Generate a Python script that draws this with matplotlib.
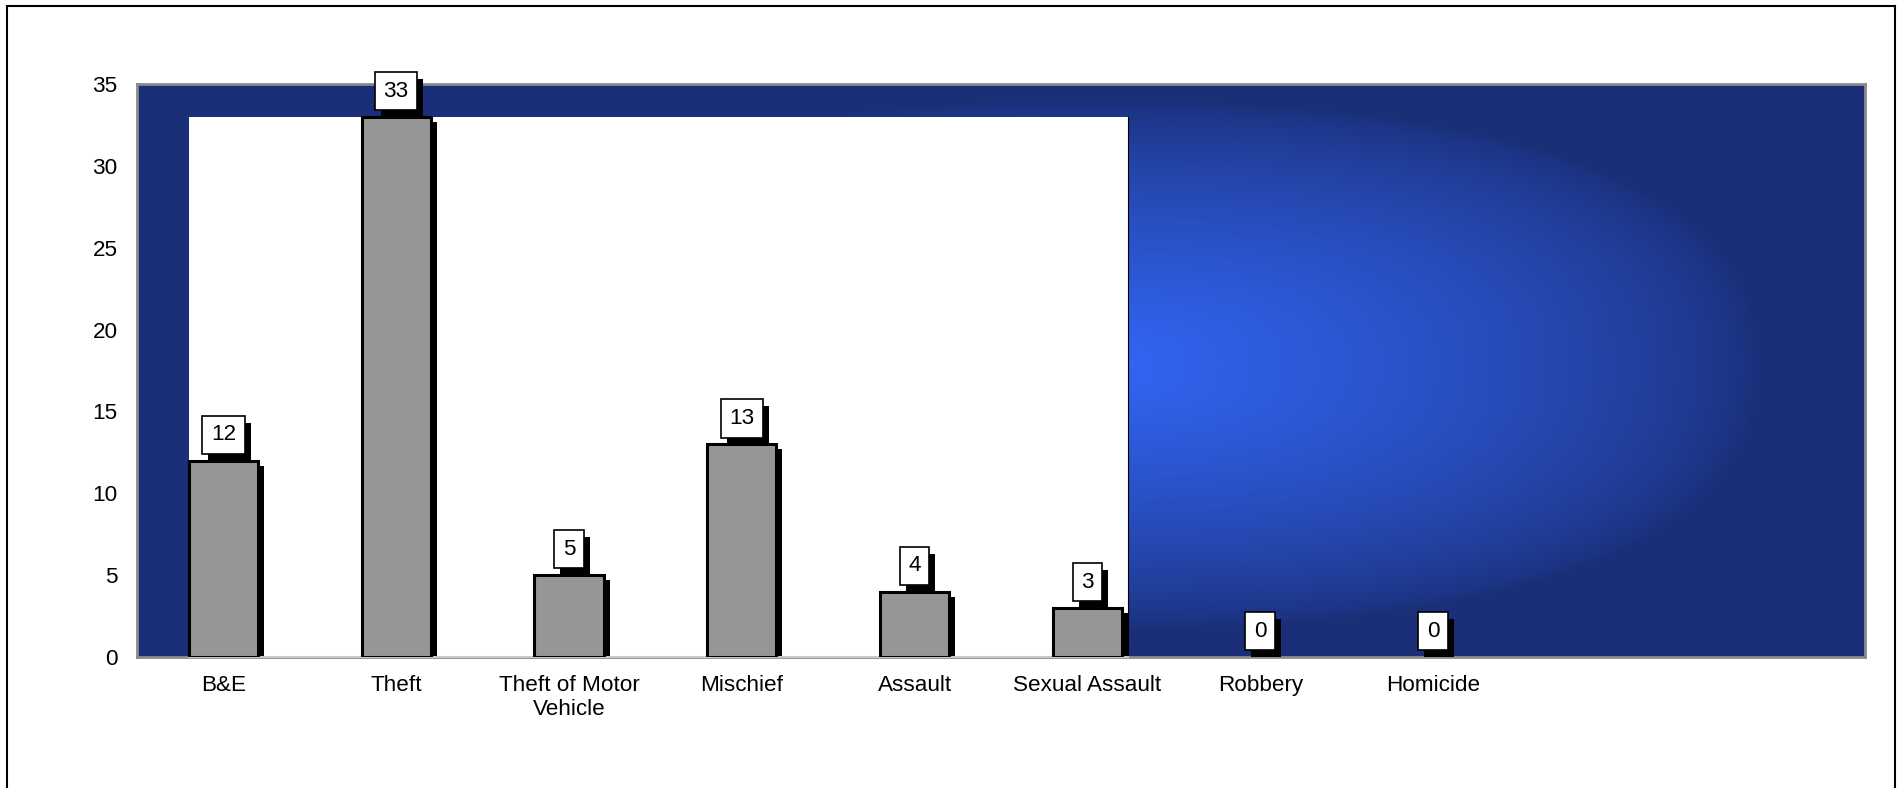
import numpy as np
import matplotlib
matplotlib.use("Agg")
import matplotlib.pyplot as plt
from matplotlib.patches import Rectangle
from matplotlib import transforms

plt.rcParams['font.family'] = ['Liberation Sans', 'DejaVu Sans']

# Данные
categories = ["B&E", "Theft", "Theft of Motor\nVehicle", "Mischief", "Assault",
              "Sexual Assault", "Robbery", "Homicide"]
values = [12, 33, 5, 13, 4, 3, 0, 0]
n_slots = 10  # на оси 10 мест, заполнены 8
y_ticks = [0, 5, 10, 15, 20, 25, 30, 35]

W_PX, H_PX, DPI = 1902, 788, 100
fig = plt.figure(figsize=(W_PX / DPI, H_PX / DPI), dpi=DPI)

# рамка вокруг всего рисунка
fig.patches.append(Rectangle((0.0037, -0.02), 0.9926, 1.0124, transform=fig.transFigure,
                             fill=False, edgecolor='black', linewidth=1.5))

ax_l, ax_r, ax_t, ax_b = 137, 1865, 84, 657
ax = fig.add_axes([ax_l / W_PX, 1 - ax_b / H_PX, (ax_r - ax_l) / W_PX, (ax_b - ax_t) / H_PX])
ax.set_xlim(-0.5, n_slots - 0.5)
ax.set_ylim(0, 35)

# синий градиент фона
gw, gh = 600, 300
px = np.linspace(ax_l, ax_r, gw)
py = np.linspace(ax_t, ax_b, gh)
PX, PY = np.meshgrid(px, py)
cx, cy, rx, ry, p = 1100, 365, 660, 265, 2.4
d = (np.abs((PX - cx) / rx) ** p + np.abs((PY - cy) / ry) ** p) ** (1 / p)
t = np.clip(1 - d, 0, 1) ** 0.7
dark = np.array([26, 47, 120]) / 255
bright = np.array([51, 102, 245]) / 255
img = dark[None, None, :] + (bright - dark)[None, None, :] * t[:, :, None]
ax.imshow(img, extent=(-0.5, n_slots - 0.5, 0, 35), aspect='auto', zorder=0, origin='upper')

x = np.arange(len(categories))
bar_w = 0.4

# белая область за столбцами
last = max(i for i, v in enumerate(values) if v > 0)
rect_l = x[0] - bar_w / 2
rect_r = x[last] + bar_w / 2 + 0.035
ax.add_patch(Rectangle((rect_l, 0), rect_r - rect_l, max(values),
                       facecolor='white', edgecolor='none', zorder=1))
ax.plot([rect_r, rect_r], [0, max(values)], color='black', linewidth=0.8, zorder=1.1)
ax.plot([rect_l, rect_r], [0, 0], color='#c8c8c8', linewidth=1.5, zorder=2.6, clip_on=False)

# тени столбцов
shadow_tr = transforms.offset_copy(ax.transData, fig=fig, x=6 / DPI * 72, y=-5 / DPI * 72,
                                   units='points')
heights = np.array(values, dtype=float)
lw = [2.2 if v > 0 else 0 for v in values]
ax.bar(x, heights, width=bar_w, color='black', edgecolor='none', zorder=2,
       transform=shadow_tr, clip_on=True)
ax.bar(x, heights, width=bar_w, color='#969696', edgecolor='black', linewidth=lw, zorder=3)

# подписи значений
fs = 16.2
labels = []
for xi, v in zip(x, values):
    a = ax.annotate(str(v), (xi, v), xytext=(0, 18.5), textcoords='offset points',
                    ha='center', va='center', fontsize=fs, color='black', zorder=5,
                    bbox=dict(boxstyle='square,pad=0.38', facecolor='white', edgecolor='black',
                              linewidth=1.2))
    labels.append(a)

ax.set_xticks(x)
ax.set_xticklabels(categories, fontsize=fs)
ax.set_yticks(y_ticks)
ax.set_yticklabels([str(v) for v in y_ticks], fontsize=fs)
ax.tick_params(axis='both', length=0)
ax.tick_params(axis='y', pad=14)
ax.tick_params(axis='x', pad=13)

for s in ax.spines.values():
    s.set_color('#8a8a8a')
    s.set_linewidth(2)

# тени под подписями (по размеру рамки подписи)
fig.canvas.draw()
renderer = fig.canvas.get_renderer()
for a in labels:
    bb = a.get_bbox_patch().get_window_extent(renderer)
    shadow = Rectangle(((bb.x0 + 6) / W_PX, (bb.y0 - 7) / H_PX),
                       bb.width / W_PX, bb.height / H_PX,
                       transform=fig.transFigure, facecolor='black',
                       edgecolor='none', zorder=4, clip_on=False)
    ax.add_artist(shadow)

fig.savefig("out.png", dpi=DPI)
